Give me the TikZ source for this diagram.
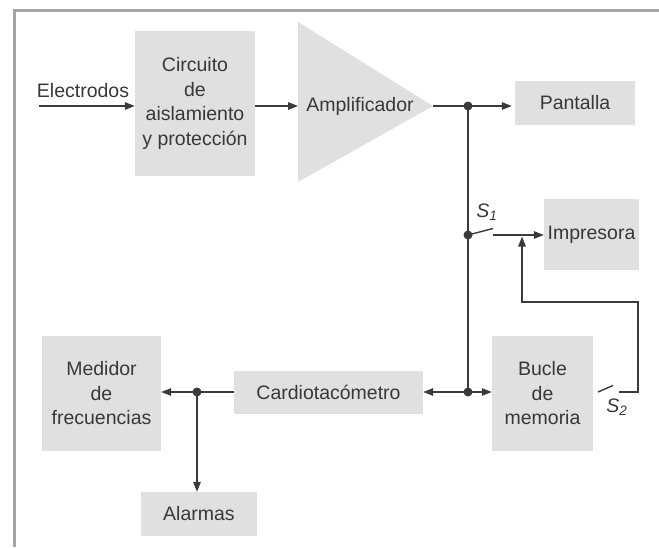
\documentclass[tikz,border=0pt]{standalone}
\usepackage{fontspec}
\setmainfont{Liberation Sans}
\usetikzlibrary{arrows.meta}
\definecolor{boxgray}{HTML}{E0E0E0}
\definecolor{wire}{HTML}{3A3A3A}
\definecolor{ink}{HTML}{383838}
\definecolor{framegray}{HTML}{A5A5A5}
\begin{document}
\begin{tikzpicture}[x=1pt,y=-1pt,
  blk/.style={fill=boxgray,inner sep=0pt,align=center,text=ink},
  lbl/.style={inner sep=0pt,text=ink},
  wireline/.style={draw=wire,line width=1.4pt},
  arr/.style={wireline,-{Triangle[length=10pt,width=7.5pt]}},
  junction/.style={circle,fill=wire,inner sep=0pt,minimum size=9pt},
  font=\fontsize{19.5}{24.5}\selectfont]
  \useasboundingbox (0,0) rectangle (659,547);
  % outer frame: top and left edges only
  \draw[framegray,line width=3pt] (14,547) -- (14,10) -- (659,10);

  % blocks
  \node[blk,minimum width=120pt,minimum height=145pt] (circ) at (195,103.5)
       {Circuito\\de\\aislamiento\\y protección};
  \fill[boxgray] (298,22) -- (433,106) -- (298,182) -- cycle;
  \coordinate (ampin) at (298,106);
  \coordinate (ampout) at (433,106);
  \node[lbl] (amp) at (360,106) {Amplificador};
  \node[blk,minimum width=120pt,minimum height=44pt] (pant) at (575,102.5) {Pantalla};
  \node[blk,minimum width=95pt,minimum height=71pt] (imp) at (591.5,234.5) {Impresora};
  \node[blk,minimum width=101pt,minimum height=115pt] (buc) at (542.5,393.5) {Bucle\\de\\memoria};
  \node[blk,minimum width=189pt,minimum height=43pt] (card) at (328.5,392.5) {Cardiotacómetro};
  \node[blk,minimum width=119pt,minimum height=115pt] (med) at (101.5,393.5) {Medidor\\de\\frecuencias};
  \node[blk,minimum width=116pt,minimum height=44pt] (alar) at (199,514) {Alarmas};

  % input
  \coordinate (ein) at (39,106);
  \node[lbl] (elec) at (83,91) {Electrodos};

  % junction points
  \node[junction] (j1) at (468,106) {};
  \node[junction] (j2) at (468,235) {};
  \node[junction] (j3) at (468,392) {};
  \node[junction] (j4) at (197,392) {};

  % switch contacts and return path
  \coordinate (s1blade) at (493,228.5);
  \coordinate (s1out) at (493,235);
  \coordinate (s2pivot) at (598,392);
  \coordinate (s2blade) at (613,385.5);
  \coordinate (s2out) at (619,392);
  \coordinate (retright) at (638,302);
  \coordinate (rettip) at (522,236.5);
  \node[lbl] (s1lbl) at (487,212) {\itshape S\textsubscript{1}};
  \node[lbl] (s2lbl) at (617,407) {\itshape S\textsubscript{2}};

  % connectors
  \draw[arr] (ein) -- (ein -| circ.west);
  \draw[arr] (ein -| circ.east) -- (ampin);
  \draw[wireline] (ampout) -- (j1.center);
  \draw[arr] (j1.center) -- ([xshift=-3pt]j1 -| pant.west);
  \draw[wireline] (j1.center) -- (j3.center);
  \draw[wireline] (j2.center) -- (s1blade);
  \draw[arr] (s1out) -- (s1out -| imp.west);
  \draw[wireline] (s2pivot) -- (s2blade);
  \draw[arr] (s2out) -| (retright) -| (rettip);
  \draw[arr] (j3.center) -- (j3 -| buc.west);
  \draw[arr] (j3.center) -- (j3 -| card.east);
  \draw[wireline] (j4 -| card.west) -- (j4.center);
  \draw[arr] (j4.center) -- (j4 -| med.east);
  \draw[arr] (j4.center) -- (j4 |- alar.north);
\end{tikzpicture}
\end{document}
